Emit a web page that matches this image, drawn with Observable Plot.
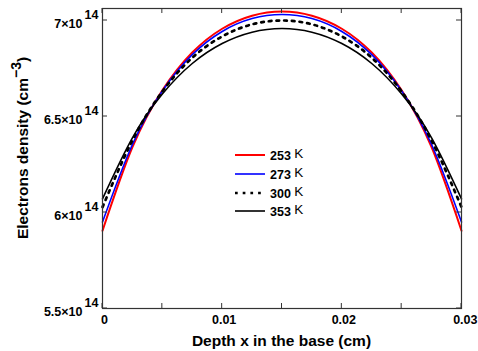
<!DOCTYPE html>
<html><head><meta charset="utf-8">
<script src="https://cdn.jsdelivr.net/npm/d3@7"></script>
<script src="https://cdn.jsdelivr.net/npm/@observablehq/plot@0.6"></script>
<style>body{margin:0;background:#fff}svg{overflow:hidden}</style>
</head><body><div id="chart"></div>
<script>
// Depth x in the base (cm)
const depth = [0, 0.0025, 0.005, 0.0075, 0.01, 0.0125, 0.015, 0.0175, 0.02, 0.0225, 0.025, 0.0275, 0.03];
// Electron density (x 1e14 cm^-3) per temperature
const n253 = [5.905, 6.340, 6.636, 6.833, 6.957, 7.025, 7.047, 7.025, 6.957, 6.833, 6.636, 6.340, 5.905];
const n273 = [5.950, 6.354, 6.633, 6.822, 6.943, 7.010, 7.031, 7.010, 6.943, 6.822, 6.633, 6.354, 5.950];
const n300 = [6.028, 6.375, 6.630, 6.806, 6.917, 6.980, 7.000, 6.980, 6.917, 6.806, 6.630, 6.375, 6.028];
const n353 = [6.071, 6.389, 6.617, 6.776, 6.880, 6.939, 6.958, 6.939, 6.880, 6.776, 6.617, 6.389, 6.071];
const seriesNames = ["253", "273", "300", "353"];
const xTicks = [0, 0.005, 0.01, 0.015, 0.02, 0.025, 0.03];
const xLabelTicks = [0, 0.01, 0.02];
const xLabelText = ["0", "0.01", "0.02"];
const xLastTick = [0.03];
const xLastText = ["0.03"];
const yTicks = [5.5e14, 6e14, 6.5e14, 7e14];
const yTickText = ["5.5", "6", "6.5", "7"];

const seriesValues = [n253, n273, n300, n353];
const styles = [
  {stroke: "#ff0000", strokeWidth: 2},
  {stroke: "#0000ff", strokeWidth: 1.6},
  {stroke: "#000000", strokeWidth: 2.7, strokeDasharray: "2.7,5"},
  {stroke: "#000000", strokeWidth: 1.6}
];
const tables = seriesValues.map((vals, s) => depth.map((x, i) => ({x, y: vals[i] * 1e14, s: seriesNames[s]})));

const FONT = "'Liberation Sans', Arial, sans-serif";
const TF = 12.5;

const plot = Plot.plot({
  width: 478, height: 351,
  marginLeft: 102, marginRight: 17, marginTop: 8, marginBottom: 43,
  style: {fontFamily: FONT, background: "#fff"},
  x: {domain: [0, 0.03], axis: null},
  y: {domain: [5.5e14, 7.0625e14], axis: null},
  marks: [
    ...tables.map((t, s) => Plot.line(t, {x: "x", y: "y", curve: "natural", ...styles[s]})),
    Plot.frame({stroke: "#333", strokeWidth: 1.2}),
    Plot.text(xLabelTicks, {x: d => d, frameAnchor: "bottom", text: (d, i) => xLabelText[i], dy: 15, dx: 2, fontSize: TF, fontWeight: "bold", fill: "#000"}),
    Plot.text(xLastTick, {x: d => d, frameAnchor: "bottom", text: (d, i) => xLastText[i], dy: 15, dx: 16, textAnchor: "end", fontSize: TF, fontWeight: "bold", fill: "#000"}),
    Plot.text(yTicks, {y: d => d, frameAnchor: "left", text: (d, i) => yTickText[i] + "×10", textAnchor: "end", dx: -20, dy: 3, fontSize: TF, fontWeight: "bold", fill: "#000"}),
    Plot.text(yTicks, {y: d => d, frameAnchor: "left", text: () => "14", textAnchor: "start", dx: -18, dy: -6, fontSize: TF, fontWeight: "bold", fill: "#000"})
  ]
});
document.getElementById("chart").appendChild(plot);

const sx = plot.scale("x"), sy = plot.scale("y");
const svg = d3.select(plot);
const fLeft = 102, fRight = 461, fTop = 8, fBottom = 308, tl = 5;
const g = svg.append("g").attr("stroke", "#333").attr("stroke-width", 1);
xTicks.forEach(v => {
  const px = sx.apply(v);
  g.append("line").attr("x1", px).attr("x2", px).attr("y1", fBottom).attr("y2", fBottom - tl);
  g.append("line").attr("x1", px).attr("x2", px).attr("y1", fTop).attr("y2", fTop + tl);
});
yTicks.forEach(v => {
  const py = sy.apply(v);
  g.append("line").attr("x1", fLeft).attr("x2", fLeft + tl).attr("y1", py).attr("y2", py);
  g.append("line").attr("x1", fRight).attr("x2", fRight - tl).attr("y1", py).attr("y2", py);
});

// axis titles
svg.append("text").attr("x", (fLeft + fRight) / 2).attr("y", 346)
  .attr("text-anchor", "middle").attr("font-family", FONT).attr("font-weight", "bold")
  .attr("font-size", 15.5).attr("fill", "#000").text("Depth x in the base (cm)");
const yl = svg.append("text").attr("transform", "translate(28,148) rotate(-90)")
  .attr("text-anchor", "middle").attr("font-family", FONT).attr("font-weight", "bold")
  .attr("font-size", 15.5).attr("fill", "#000");
yl.append("tspan").text("Electrons density (cm");
yl.append("tspan").attr("dy", -7).attr("font-size", 14).text("−3");
yl.append("tspan").attr("dy", 7).text(")");

// legend
const ly = [155, 174, 193, 211];
const lg = svg.append("g");
seriesNames.forEach((name, i) => {
  const st = styles[i];
  lg.append("line").attr("x1", 235).attr("x2", 265).attr("y1", ly[i]).attr("y2", ly[i])
    .attr("stroke", st.stroke).attr("stroke-width", st.strokeWidth)
    .attr("stroke-dasharray", st.strokeDasharray || null);
  const t = lg.append("text").attr("x", 270).attr("y", ly[i] + 5).attr("text-anchor", "start")
    .attr("font-family", FONT).attr("font-size", 12.5).attr("font-weight", "bold").attr("fill", "#000");
  t.append("tspan").text(name + " ");
  t.append("tspan").attr("dy", -2).attr("font-weight", "normal").attr("font-size", 13.5).text("K");
});
</script>
</body></html>
